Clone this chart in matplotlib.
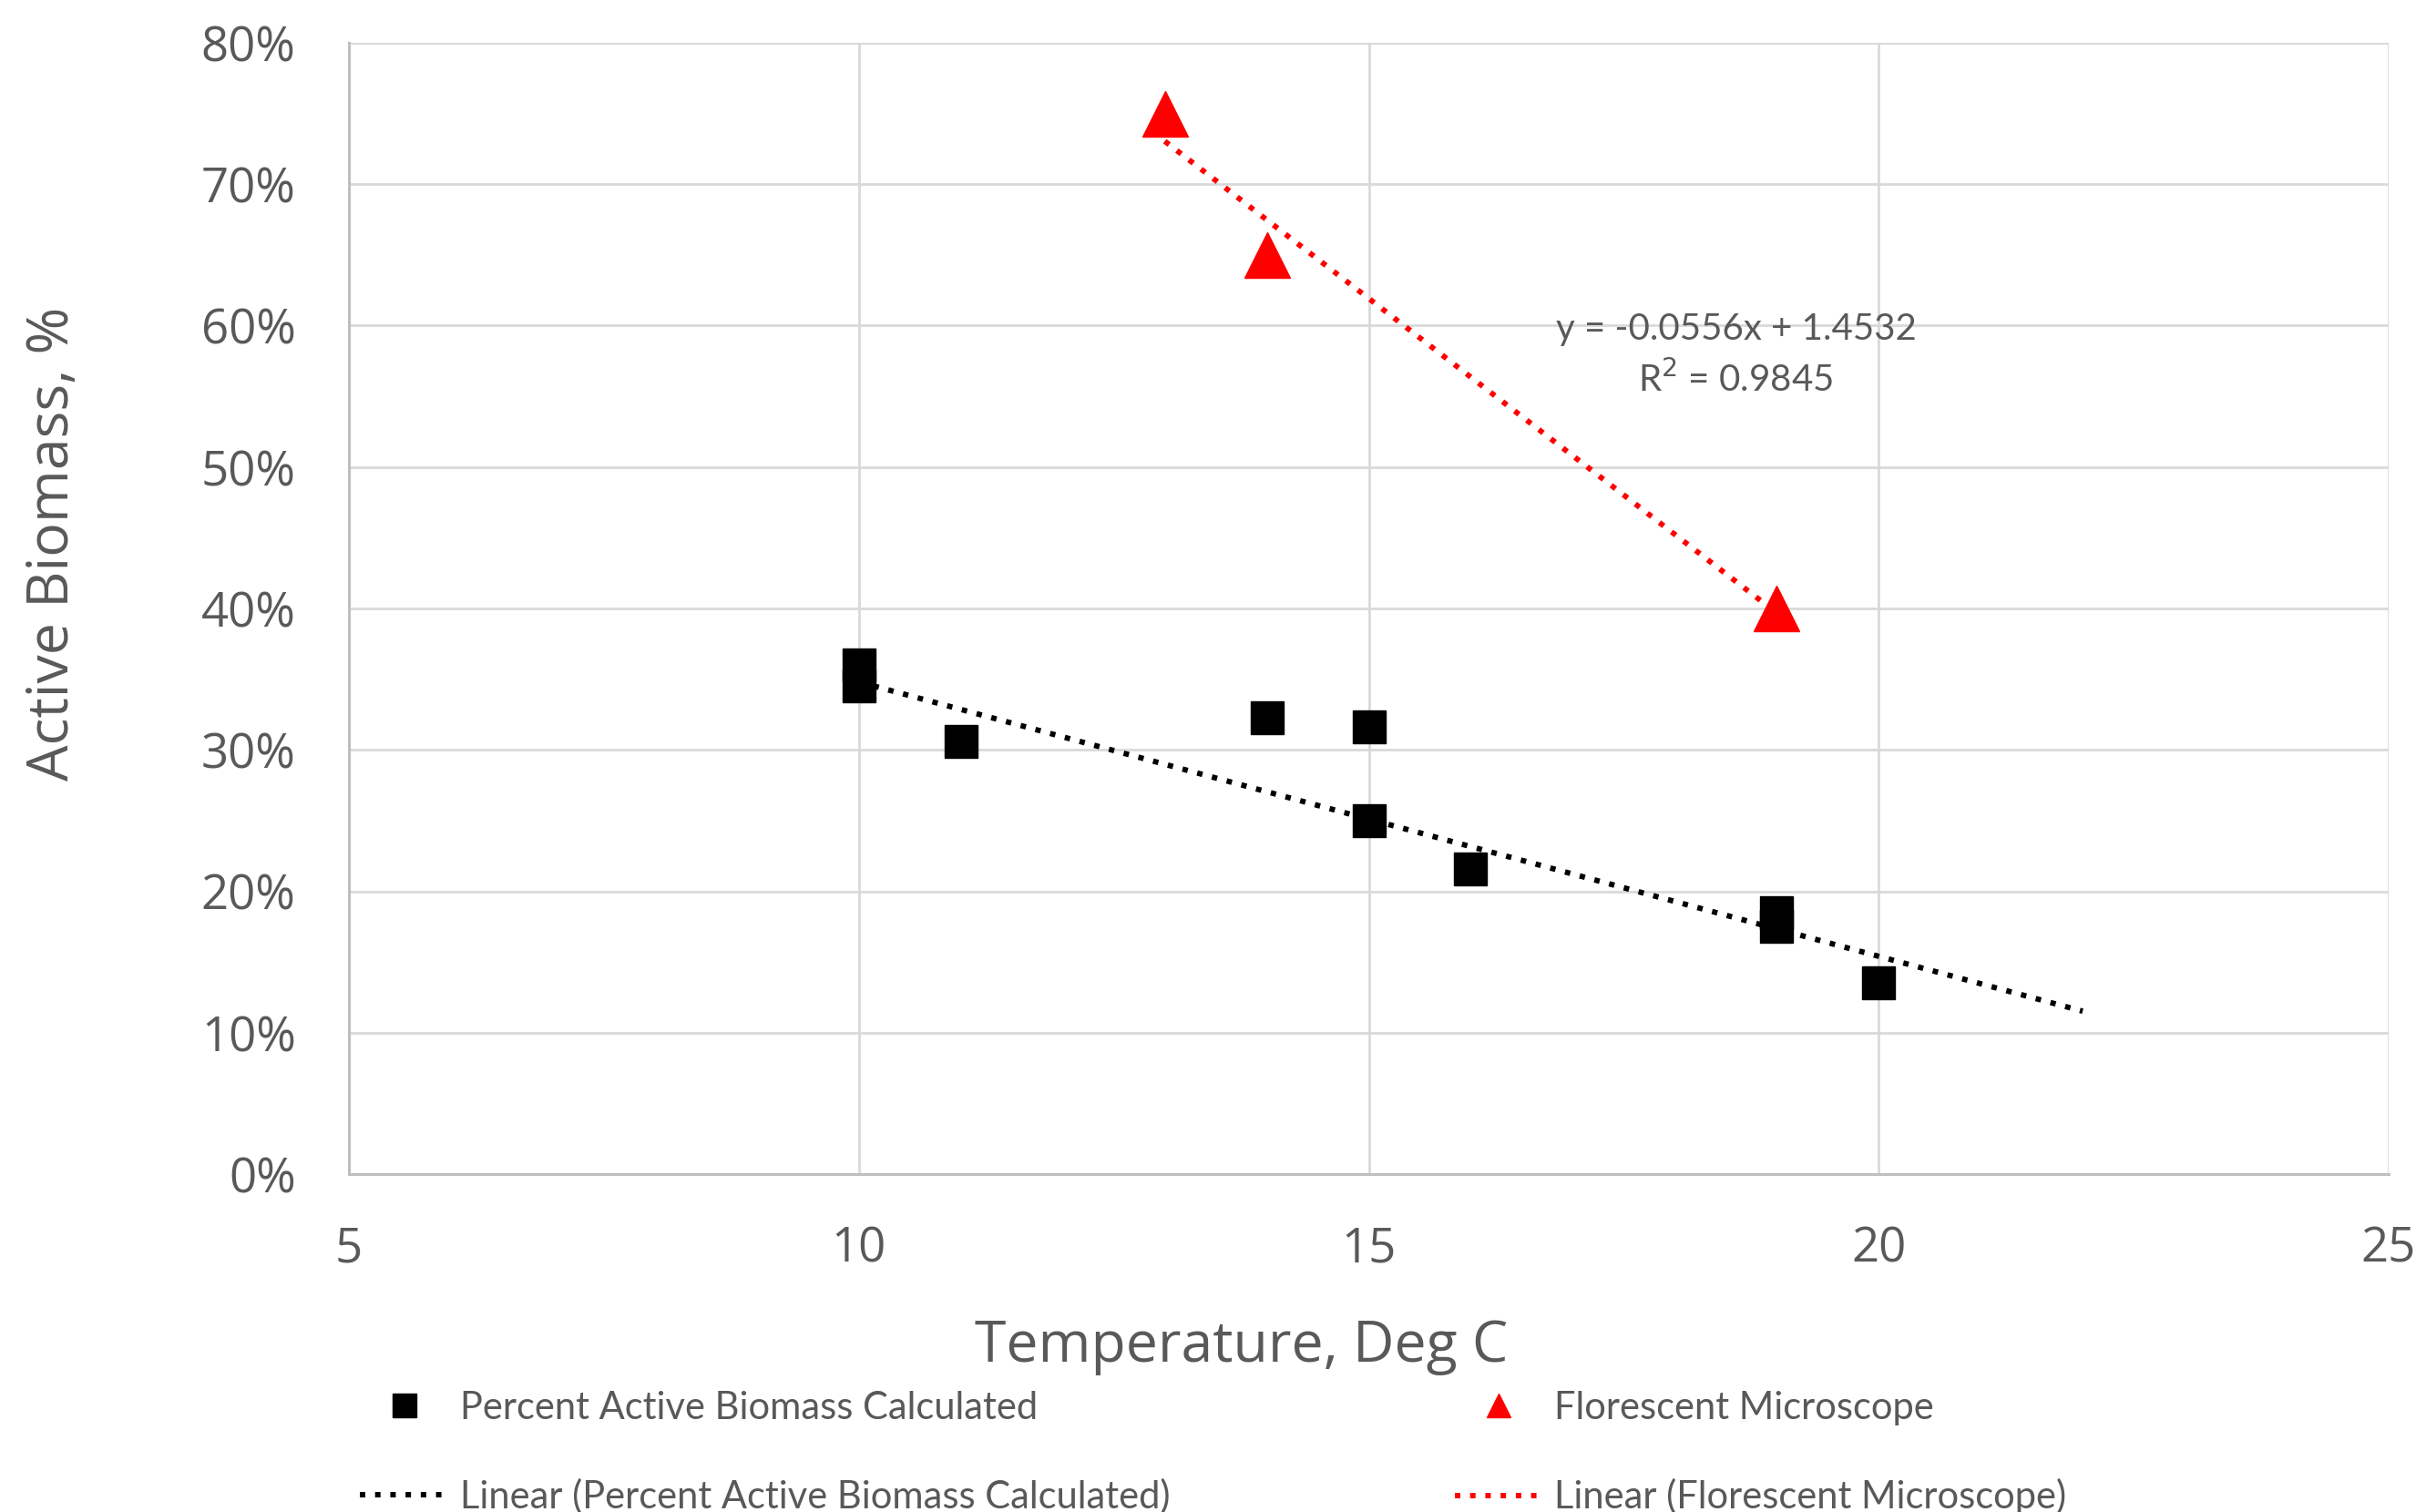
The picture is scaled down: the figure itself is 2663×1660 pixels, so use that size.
import numpy as np
import matplotlib.pyplot as plt
from matplotlib.lines import Line2D
from matplotlib.ticker import FuncFormatter

# data
temp_calc = [10, 10, 11, 14, 15, 15, 16, 19, 19, 20]
biomass_calc = [0.36, 0.345, 0.306, 0.323, 0.316, 0.25, 0.216, 0.185, 0.175, 0.135]
temp_micro = [13, 14, 19]
biomass_micro = [0.75, 0.65, 0.40]

# trendlines (slope, intercept) and their x ranges
trend_calc = [-0.0194, 0.542]
trend_calc_x = [10, 22]
trend_micro = [-0.0556, 1.4532]
trend_micro_x = [13, 19]
r2_micro = 0.9845

x_ticks = [5, 10, 15, 20, 25]
y_ticks = [0, 0.1, 0.2, 0.3, 0.4, 0.5, 0.6, 0.7, 0.8]

labels = ["Percent Active Biomass Calculated",
          "Linear (Percent Active Biomass Calculated)",
          "Florescent Microscope",
          "Linear (Florescent Microscope)"]

grey = "#595959"
W, H = 2663, 1660
fig = plt.figure(figsize=(W / 100, H / 100), dpi=100)
ax = fig.add_axes([383 / W, 1 - 1289 / H, (2622 - 383) / W, (1289 - 47) / H])

dots = (0, (1, 1.8))
ax.plot(temp_calc, biomass_calc, ls="none", marker="s", ms=26, color="black", zorder=3)
ax.plot(temp_micro, biomass_micro, ls="none", marker="^", ms=36, color="red", zorder=3)

xs = np.array(trend_calc_x)
ax.plot(xs, np.polyval(trend_calc, xs), color="black", ls=dots, lw=4.3, zorder=4)
xs = np.array(trend_micro_x)
ax.plot(xs, np.polyval(trend_micro, xs), color="red", ls=dots, lw=4.3, zorder=4)

ax.text(18.6, 0.590, f"y = {trend_micro[0]:.4f}x + {trend_micro[1]:.4f}",
        ha="center", va="baseline", fontsize=29, family="Lato", color=grey)
ax.text(18.6, 0.553, f"R$^2$ = {r2_micro:.4f}",
        ha="center", va="baseline", fontsize=29, family="Lato", color=grey)

ax.set_xlim(5, 25)
ax.set_ylim(0, 0.8)
ax.set_xticks(x_ticks)
ax.set_yticks(y_ticks)
ax.yaxis.set_major_formatter(FuncFormatter(lambda v, p: f"{v * 100:.0f}%"))
ax.tick_params(length=0, labelsize=38, labelcolor=grey)
ax.tick_params(axis="y", pad=42)
ax.tick_params(axis="x", pad=40)
for lab in ax.get_xticklabels() + ax.get_yticklabels():
    lab.set_family("Open Sans")

ax.grid(True, color="#d9d9d9", lw=2)
ax.set_axisbelow(True)
for s in ["top", "right"]:
    ax.spines[s].set_visible(False)
for s in ["left", "bottom"]:
    ax.spines[s].set_color("#bfbfbf")
    ax.spines[s].set_linewidth(2.2)

fig.text(1363 / W, 1 - 1495 / H, "Temperature, Deg C", ha="center", va="baseline",
         fontsize=45, family="Open Sans", color=grey)
fig.text(75 / W, 1 - 597 / H, "Active Biomass, %", rotation=90, rotation_mode="anchor",
         ha="center", va="baseline", fontsize=45, family="Open Sans", color=grey)

handles = [
    Line2D([], [], ls="none", marker="s", ms=18.7, color="black"),
    Line2D([], [], color="black", ls=dots, lw=4.3),
    Line2D([], [], ls="none", marker="^", ms=18.7, color="red"),
    Line2D([], [], color="red", ls=dots, lw=4.3),
]
fig.legend(handles, labels, ncols=2, loc="upper left", bbox_to_anchor=(395 / W, 1 - 1527 / H),
           frameon=False, prop={"family": "Lato", "size": 30}, labelcolor=grey,
           handlelength=2.33, handletextpad=0.3, columnspacing=7.5, labelspacing=1.4,
           borderpad=0, borderaxespad=0)

fig.savefig("out.png", dpi=100)
